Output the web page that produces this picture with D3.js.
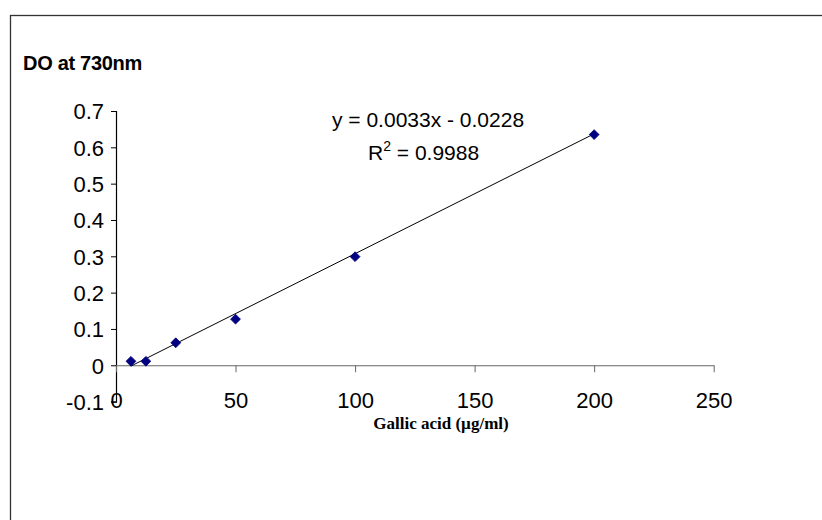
<!DOCTYPE html>
<html>
<head>
<meta charset="utf-8">
<script src="https://cdn.jsdelivr.net/npm/d3@7"></script>
<style>
  body { margin: 0; background: #fff; }
  svg { display: block; }
  text { font-family: Arial, "Liberation Sans", sans-serif; fill: #000; }
</style>
</head>
<body>
<div id="chart"></div>
<script>
const width = 822;
const height = 520;

// data
const concentrations = [6.25, 12.5, 25, 50, 100, 200];
const absorbances = [0.011, 0.011, 0.062, 0.127, 0.299, 0.635];
const xTicks = [0, 50, 100, 150, 200, 250];
const yTicks = [-0.1, 0, 0.1, 0.2, 0.3, 0.4, 0.5, 0.6, 0.7];
const slope = 0.0033;
const intercept = -0.0228;
const rSquared = "0.9988";

const svg = d3.select("#chart")
    .append("svg")
    .attr("width", width)
    .attr("height", height);

// chart frame (runs off the right and bottom edge)
svg.append("rect")
    .attr("x", 10.5)
    .attr("y", 15.5)
    .attr("width", 830)
    .attr("height", 530)
    .attr("fill", "none")
    .attr("stroke", "#333")
    .attr("stroke-width", 1.3);

const x = d3.scaleLinear().domain([0, 250]).range([116, 713.7]);
const y = d3.scaleLinear().domain([-0.1, 0.7]).range([401.6, 111]);

// y axis
const yAxis = svg.append("g")
    .attr("transform", `translate(${x(0)},0)`)
    .call(d3.axisLeft(y).tickValues(yTicks).tickSize(5).tickPadding(7)
        .tickFormat(d => d === 0 ? "0" : d.toFixed(1)));
yAxis.select(".domain").attr("stroke", "#000").attr("stroke-width", 1.2);
yAxis.selectAll(".tick line").attr("stroke", "#000");
yAxis.selectAll(".tick text")
    .attr("font-size", 22)
    .attr("font-family", "Arial, 'Liberation Sans', sans-serif")
    .attr("dy", "0.36em");

// x axis at y = 0
const xAxis = svg.append("g")
    .attr("transform", `translate(0,${y(0)})`)
    .call(d3.axisBottom(x).tickValues(xTicks).tickSize(7).tickSizeOuter(0)
        .tickFormat(d3.format("d")));
xAxis.select(".domain").attr("stroke", "#666").attr("stroke-width", 1.2);
xAxis.selectAll(".tick line").attr("stroke", "#666");
// labels sit below the bottom of the y axis, as in Excel
xAxis.selectAll(".tick text")
    .attr("font-size", 22)
    .attr("font-family", "Arial, 'Liberation Sans', sans-serif")
    .attr("y", 0)
    .attr("dy", 0)
    .attr("transform", "translate(0,43)");

// trendline
svg.append("line")
    .attr("x1", x(concentrations[0]))
    .attr("y1", y(slope * concentrations[0] + intercept))
    .attr("x2", x(concentrations[concentrations.length - 1]))
    .attr("y2", y(slope * concentrations[concentrations.length - 1] + intercept))
    .attr("stroke", "#000")
    .attr("stroke-width", 1);

// diamond markers
const diamond = d3.symbol().type(d3.symbolSquare).size(48);
svg.selectAll(".pt")
    .data(concentrations)
    .join("path")
    .attr("class", "pt")
    .attr("d", diamond)
    .attr("transform", (d, i) => `translate(${x(d)},${y(absorbances[i])}) rotate(45)`)
    .attr("fill", "#000080")
    .attr("stroke", "#000080")
    .attr("stroke-width", 0.8);

// titles
svg.append("text")
    .attr("x", 23)
    .attr("y", 70)
    .attr("font-size", 20)
    .attr("font-weight", "bold")
    .attr("letter-spacing", -0.3)
    .text("DO at 730nm");

svg.append("text")
    .attr("x", 441)
    .attr("y", 429)
    .attr("text-anchor", "middle")
    .attr("font-size", 17)
    .attr("font-weight", "bold")
    .style("font-family", "'Liberation Serif', 'Times New Roman', serif")
    .text("Gallic acid (µg/ml)");

// regression equation
svg.append("text")
    .attr("x", 332)
    .attr("y", 127)
    .attr("font-size", 21)
    .text(`y = ${slope}x - ${Math.abs(intercept)}`);

const r2 = svg.append("text")
    .attr("x", 368)
    .attr("y", 160)
    .attr("font-size", 21);
r2.append("tspan").text("R");
r2.append("tspan").attr("font-size", 14).attr("dy", -9).text("2");
r2.append("tspan").attr("dy", 9).text(` = ${rSquared}`);
</script>
</body>
</html>
